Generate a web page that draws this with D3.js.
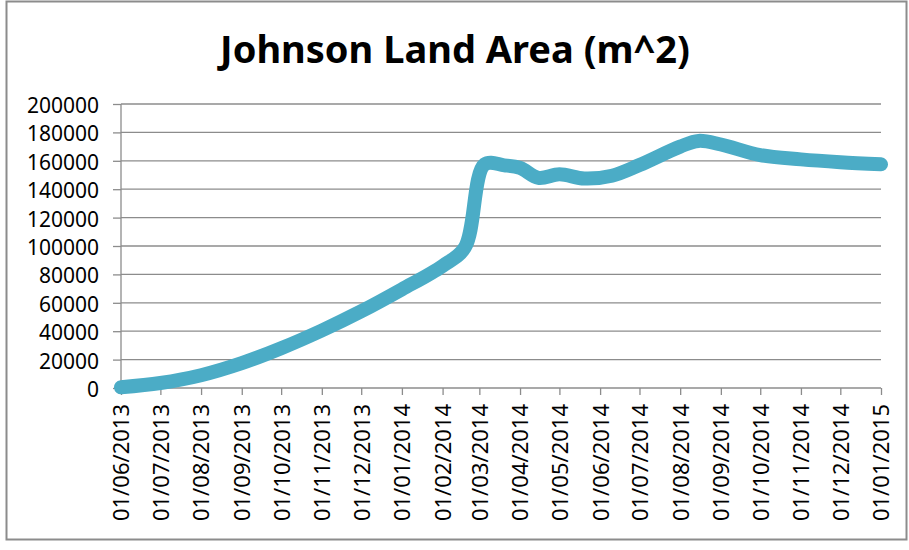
<!DOCTYPE html>
<html>
<head>
<meta charset="utf-8">
<script src="https://cdn.jsdelivr.net/npm/d3@7"></script>
<style>
  body { margin: 0; background: #fff; }
  text { font-family: "Noto Sans", "Open Sans", sans-serif; fill: #000; }
</style>
</head>
<body>
<div id="chart"></div>
<script>
// data (dd/mm/yyyy)
const dates = ["01/06/2013", "01/07/2013", "01/08/2013", "01/09/2013", "01/10/2013",
    "01/11/2013", "01/12/2013", "01/01/2014", "01/02/2014", "18/02/2014",
    "05/03/2014", "20/03/2014", "01/04/2014", "15/04/2014", "01/05/2014", "20/05/2014",
    "10/06/2014", "01/07/2014", "01/08/2014", "15/08/2014", "01/09/2014",
    "01/10/2014", "01/11/2014", "01/12/2014", "01/01/2015"];
const areas = [500, 3500, 9000, 17500, 28000,
    40500, 54000, 69500, 86000, 99000,
    157500, 156800, 155000, 148000, 150500, 147500,
    149500, 157000, 170000, 174000, 171500,
    164000, 161000, 159000, 157500];

const xTickLabels = ["01/06/2013", "01/07/2013", "01/08/2013", "01/09/2013", "01/10/2013",
    "01/11/2013", "01/12/2013", "01/01/2014", "01/02/2014", "01/03/2014", "01/04/2014",
    "01/05/2014", "01/06/2014", "01/07/2014", "01/08/2014", "01/09/2014", "01/10/2014",
    "01/11/2014", "01/12/2014", "01/01/2015"];
const yTicks = [0, 20000, 40000, 60000, 80000, 100000, 120000, 140000, 160000, 180000, 200000];

const chartTitle = "Johnson Land Area (m^2)";

// set the dimensions and margins of the graph
const fullW = 909, fullH = 550;
const margin = {top: 104, right: 28, bottom: 162, left: 121},
    width = fullW - margin.left - margin.right,
    height = fullH - margin.top - margin.bottom;

const parse = d3.timeParse("%d/%m/%Y");
const data = dates.map((d, i) => ({date: parse(d), value: areas[i]}));

const root = d3.select("#chart")
    .append("svg")
    .attr("width", fullW)
    .attr("height", fullH);

// outer frame
root.append("rect")
    .attr("x", 6.5)
    .attr("y", 1.5)
    .attr("width", 900)
    .attr("height", 538)
    .attr("fill", "#fff")
    .attr("stroke", "#8c8c8c")
    .attr("stroke-width", 2);

// title
root.append("text")
    .attr("x", 455)
    .attr("y", 63)
    .attr("text-anchor", "middle")
    .style("font-size", "38px")
    .style("font-weight", "bold")
    .text(chartTitle);

const svg = root.append("g")
    .attr("transform", `translate(${margin.left},${margin.top})`);

// scales
const x = d3.scaleTime()
    .domain([parse(xTickLabels[0]), parse(xTickLabels[xTickLabels.length - 1])])
    .range([0, width]);

const y = d3.scaleLinear()
    .domain([0, 200000])
    .range([height, 0]);

// horizontal grid
svg.append("g")
    .selectAll("line")
    .data(yTicks.slice(1))
    .join("line")
    .attr("x1", 0)
    .attr("x2", width)
    .attr("y1", d => y(d))
    .attr("y2", d => y(d))
    .attr("stroke", "#8c8c8c")
    .attr("stroke-width", 1.3);

// Y axis
const yAxis = svg.append("g")
    .call(d3.axisLeft(y).tickValues(yTicks).tickSize(8).tickPadding(14).tickFormat(d3.format("d")));
yAxis.selectAll("line, path").attr("stroke", "#8c8c8c").attr("stroke-width", 1.3);
yAxis.select(".domain").attr("d", `M0,0V${height}`);
yAxis.selectAll("text")
    .attr("dy", "0.4em")
    .style("font-size", "21px")
    .style("font-family", "'Noto Sans', sans-serif")
    .attr("fill", "#000");

// X axis
const xAxis = svg.append("g")
    .attr("transform", `translate(0, ${height})`)
    .call(d3.axisBottom(x).tickValues(xTickLabels.map(parse)).tickSize(7).tickFormat(d3.timeFormat("%d/%m/%Y")));
xAxis.selectAll("line, path").attr("stroke", "#8c8c8c").attr("stroke-width", 1.3);
xAxis.select(".domain").attr("d", `M0,0H${width}`);
xAxis.selectAll("text")
    .attr("transform", "rotate(-90)")
    .attr("text-anchor", "end")
    .attr("x", -16)
    .attr("y", 0)
    .attr("dy", "0.36em")
    .style("font-size", "22px")
    .style("font-family", "'Noto Sans', sans-serif")
    .attr("fill", "#000");

// the line
const line = d3.line()
    .x(d => x(d.date))
    .y(d => y(d.value))
    .curve(d3.curveCatmullRom.alpha(0.5));

svg.append("path")
    .datum(data)
    .attr("fill", "none")
    .attr("stroke", "#4bacc6")
    .attr("stroke-width", 14)
    .attr("stroke-linecap", "round")
    .attr("stroke-linejoin", "round")
    .attr("d", line);
</script>
</body>
</html>
